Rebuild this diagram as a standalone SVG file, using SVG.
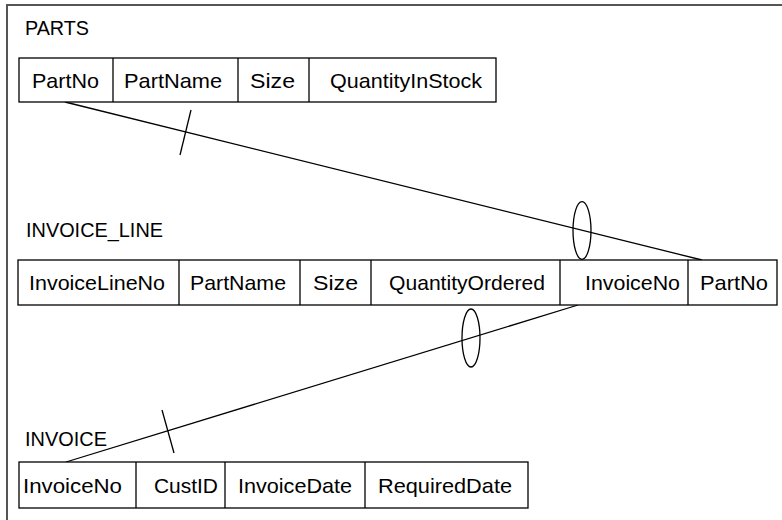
<svg xmlns="http://www.w3.org/2000/svg" width="782" height="520" viewBox="0 0 782 520">
<style>
.frame{fill:none;stroke:#555;stroke-width:2}
.box{fill:#fff;stroke:#000;stroke-width:1.3}
.div{stroke:#000;stroke-width:1.3}
.ln{fill:none;stroke:#000;stroke-width:1.3}
.t{font-family:"Liberation Sans",Arial,sans-serif;font-size:21px;fill:#000}
.c{font-family:"Liberation Sans",Arial,sans-serif;font-size:21px;fill:#000}
</style>
<rect width="782" height="520" fill="#fff"/>
<path class="frame" d="M7 520 V5 H782"/>

<g id="connectors">
  <line class="ln" x1="65" y1="102" x2="702" y2="260"/>
  <line class="ln" x1="191" y1="110" x2="180" y2="155"/>
  <ellipse class="ln" cx="582" cy="230.5" rx="9" ry="28.8"/>
  <line class="ln" x1="578" y1="305" x2="66" y2="462"/>
  <line class="ln" x1="162" y1="410" x2="174" y2="453"/>
  <ellipse class="ln" cx="471" cy="338" rx="9" ry="29"/>
</g>

<g id="parts">
  <text class="t" x="25" y="35" textLength="64" lengthAdjust="spacingAndGlyphs">PARTS</text>
  <rect class="box" x="19" y="58" width="477" height="44"/>
  <line class="div" x1="113" y1="58" x2="113" y2="102"/>
  <line class="div" x1="238" y1="58" x2="238" y2="102"/>
  <line class="div" x1="309" y1="58" x2="309" y2="102"/>
  <text class="c" x="32" y="87.5" textLength="67" lengthAdjust="spacingAndGlyphs">PartNo</text>
  <text class="c" x="124" y="87.5" textLength="98" lengthAdjust="spacingAndGlyphs">PartName</text>
  <text class="c" x="250" y="87.5" textLength="45" lengthAdjust="spacingAndGlyphs">Size</text>
  <text class="c" x="330" y="87.5" textLength="152" lengthAdjust="spacingAndGlyphs">QuantityInStock</text>
</g>

<g id="invoice_line">
  <text class="t" x="26" y="237" textLength="137" lengthAdjust="spacingAndGlyphs">INVOICE_LINE</text>
  <rect class="box" x="18" y="260" width="759" height="45"/>
  <line class="div" x1="179" y1="260" x2="179" y2="305"/>
  <line class="div" x1="300" y1="260" x2="300" y2="305"/>
  <line class="div" x1="371" y1="260" x2="371" y2="305"/>
  <line class="div" x1="560" y1="260" x2="560" y2="305"/>
  <line class="div" x1="688" y1="260" x2="688" y2="305"/>
  <text class="c" x="29" y="289.5" textLength="136" lengthAdjust="spacingAndGlyphs">InvoiceLineNo</text>
  <text class="c" x="190" y="289.5" textLength="96" lengthAdjust="spacingAndGlyphs">PartName</text>
  <text class="c" x="313" y="289.5" textLength="45" lengthAdjust="spacingAndGlyphs">Size</text>
  <text class="c" x="389" y="289.5" textLength="156" lengthAdjust="spacingAndGlyphs">QuantityOrdered</text>
  <text class="c" x="585" y="289.5" textLength="95" lengthAdjust="spacingAndGlyphs">InvoiceNo</text>
  <text class="c" x="700" y="289.5" textLength="68" lengthAdjust="spacingAndGlyphs">PartNo</text>
</g>

<g id="invoice">
  <text class="t" x="25" y="446" textLength="82" lengthAdjust="spacingAndGlyphs">INVOICE</text>
  <rect class="box" x="19" y="462" width="509" height="46"/>
  <line class="div" x1="136" y1="462" x2="136" y2="508"/>
  <line class="div" x1="225" y1="462" x2="225" y2="508"/>
  <line class="div" x1="365" y1="462" x2="365" y2="508"/>
  <text class="c" x="23" y="492.5" textLength="99" lengthAdjust="spacingAndGlyphs">InvoiceNo</text>
  <text class="c" x="154" y="492.5" textLength="64" lengthAdjust="spacingAndGlyphs">CustID</text>
  <text class="c" x="238" y="492.5" textLength="114" lengthAdjust="spacingAndGlyphs">InvoiceDate</text>
  <text class="c" x="378" y="492.5" textLength="134" lengthAdjust="spacingAndGlyphs">RequiredDate</text>
</g>
</svg>
